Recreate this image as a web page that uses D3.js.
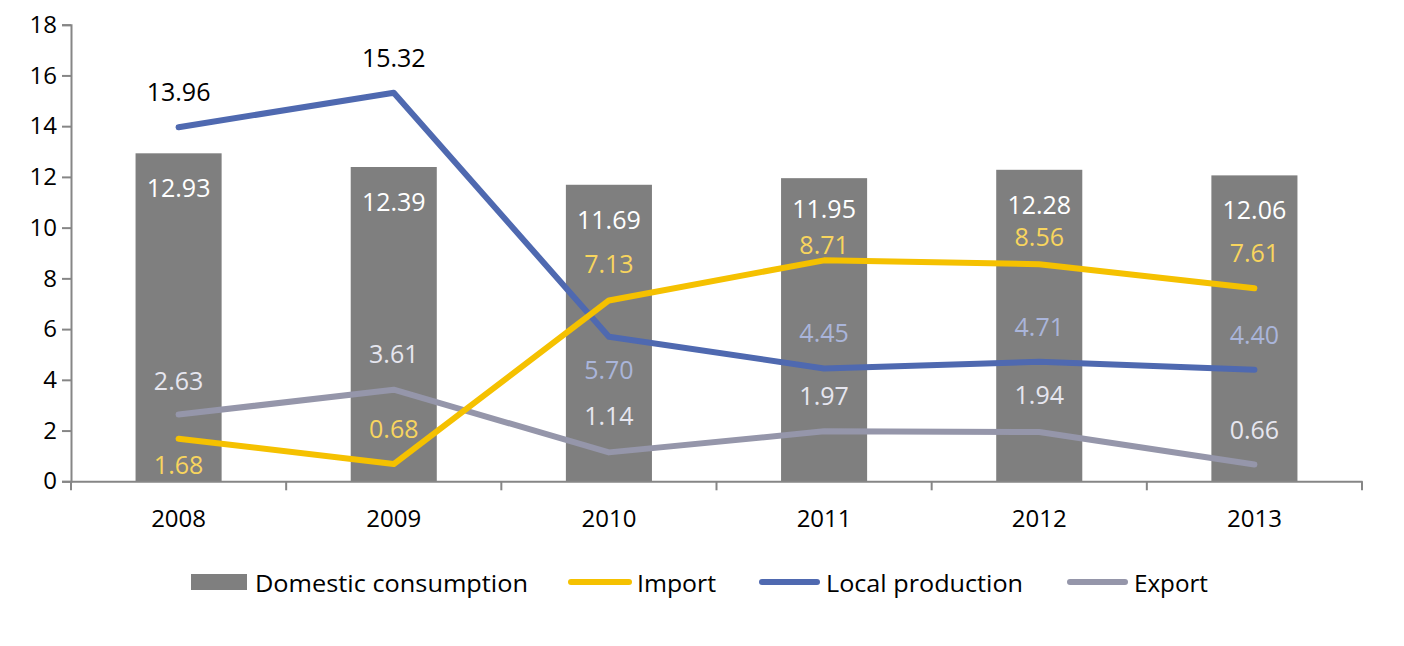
<!DOCTYPE html>
<html>
<head>
<meta charset="utf-8">
<script src="https://cdn.jsdelivr.net/npm/d3@7"></script>
<style>
  html, body { margin: 0; padding: 0; background: #fff; }
  svg { display: block; }
</style>
</head>
<body>
<div id="chart"></div>
<script>
// ---- data ----
const years = ["2008", "2009", "2010", "2011", "2012", "2013"];
const domesticConsumption = [12.93, 12.39, 11.69, 11.95, 12.28, 12.06];
const importVals = [1.68, 0.68, 7.13, 8.71, 8.56, 7.61];
const localProduction = [13.96, 15.32, 5.70, 4.45, 4.71, 4.40];
const exportVals = [2.63, 3.61, 1.14, 1.97, 1.94, 0.66];
const yTicks = [0, 2, 4, 6, 8, 10, 12, 14, 16, 18];
const legendLabels = ["Domestic consumption", "Import", "Local production", "Export"];

// ---- layout (label offsets in px, not data) ----
const barLabelDy = [34, 34, 34, 30, 34, 34];
const importLabelDy = [25, -36, -37, -16, -28, -36];
const localLabelDy = [-36, -36, 32, -36, -36, -36];
const exportLabelDy = [-35, -37, -37, -36, -38, -36];
const localLabelColor = ["#000000", "#000000", "#aab5da", "#aab5da", "#aab5da", "#aab5da"];

const W = 1404, H = 646;
const margin = { left: 71, right: 1404 - 1362, top: 24.7, bottom: 646 - 481.3 };
const FONT = "'Open Sans', 'Liberation Sans', sans-serif";

const svg = d3.select("#chart").append("svg")
  .attr("width", W).attr("height", H)
  .style("font-family", FONT);

const x = d3.scaleBand().domain(years).range([margin.left, W - margin.right]).paddingInner(0).paddingOuter(0);
const y = d3.scaleLinear().domain([0, 18]).range([H - margin.bottom, margin.top]);
const barW = x.bandwidth() * 0.4;
const cx = d => x(d) + x.bandwidth() / 2;

const colors = {
  bar: "#7f7f7f",
  imp: "#f5c100",
  local: "#4f69b0",
  exp: "#9596aa",
  axis: "#868686"
};

// bars
svg.append("g").selectAll("rect").data(years).join("rect")
  .attr("x", d => cx(d) - barW / 2)
  .attr("width", barW)
  .attr("y", (d, i) => y(domesticConsumption[i]))
  .attr("height", (d, i) => y(0) - y(domesticConsumption[i]))
  .attr("fill", colors.bar);

// axes
const yAxis = svg.append("g").attr("transform", `translate(${margin.left},0)`)
  .call(d3.axisLeft(y).tickValues(yTicks).tickSize(9).tickPadding(10).tickFormat(d3.format("d")));
yAxis.select(".domain").attr("stroke", colors.axis).attr("stroke-width", 2);
yAxis.selectAll(".tick line").attr("stroke", colors.axis).attr("stroke-width", 2);
yAxis.selectAll(".tick text").attr("fill", "#000").style("font-size", "24px").style("font-family", FONT).attr("x", -14);

const xAxis = svg.append("g").attr("transform", `translate(0,${y(0)})`)
  .call(d3.axisBottom(x).tickSize(0).tickPadding(29));
xAxis.select(".domain").attr("stroke", colors.axis).attr("stroke-width", 2);
xAxis.selectAll(".tick text").attr("fill", "#000").style("font-size", "24px").style("font-family", FONT);
// category boundary ticks
const bounds = years.map(d => x(d)).concat([x(years[years.length - 1]) + x.bandwidth()]);
xAxis.append("g").selectAll("line").data(bounds).join("line")
  .attr("x1", d => d).attr("x2", d => d).attr("y1", 0).attr("y2", 9)
  .attr("stroke", colors.axis).attr("stroke-width", 2);

// lines
const lineGen = d3.line().x((d, i) => cx(years[i])).y(d => y(d));
function drawLine(vals, color) {
  svg.append("path").datum(vals)
    .attr("d", lineGen)
    .attr("fill", "none").attr("stroke", color)
    .attr("stroke-width", 6).attr("stroke-linecap", "round").attr("stroke-linejoin", "round");
}
drawLine(exportVals, colors.exp);
drawLine(localProduction, colors.local);
drawLine(importVals, colors.imp);

// labels
function drawLabels(vals, dys, fill) {
  svg.append("g").selectAll("text").data(vals).join("text")
    .attr("x", (d, i) => cx(years[i]))
    .attr("y", (d, i) => y(d) + dys[i])
    .attr("text-anchor", "middle")
    .attr("dominant-baseline", "central")
    .style("font-size", "25px")
    .attr("fill", (d, i) => typeof fill === "function" ? fill(i) : fill)
    .text(d => d.toFixed(2));
}
drawLabels(domesticConsumption, barLabelDy, "#ffffff");
drawLabels(importVals, importLabelDy, "#f8d55e");
drawLabels(localProduction, localLabelDy, i => localLabelColor[i]);
drawLabels(exportVals, exportLabelDy, "#e6e6ef");

// legend
const legendY = 582;
const lg = svg.append("g");
lg.append("rect").attr("x", 191).attr("y", legendY - 8).attr("width", 56).attr("height", 16).attr("fill", colors.bar);
const legendLines = [
  { x1: 571, x2: 629, c: colors.imp },
  { x1: 762, x2: 817, c: colors.local },
  { x1: 1070, x2: 1125, c: colors.exp }
];
lg.selectAll("line").data(legendLines).join("line")
  .attr("x1", d => d.x1).attr("x2", d => d.x2).attr("y1", legendY).attr("y2", legendY)
  .attr("stroke", d => d.c).attr("stroke-width", 6).attr("stroke-linecap", "round");
const legendTextX = [255, 637, 826, 1134];
const legendTextW = [273, 79, 197, 74];
lg.selectAll("text").data(legendLabels).join("text")
  .attr("x", (d, i) => legendTextX[i])
  .attr("y", legendY)
  .attr("dominant-baseline", "central")
  .attr("textLength", (d, i) => legendTextW[i])
  .attr("lengthAdjust", "spacingAndGlyphs")
  .style("font-size", "24px")
  .attr("fill", "#000")
  .text(d => d);
</script>
</body>
</html>
